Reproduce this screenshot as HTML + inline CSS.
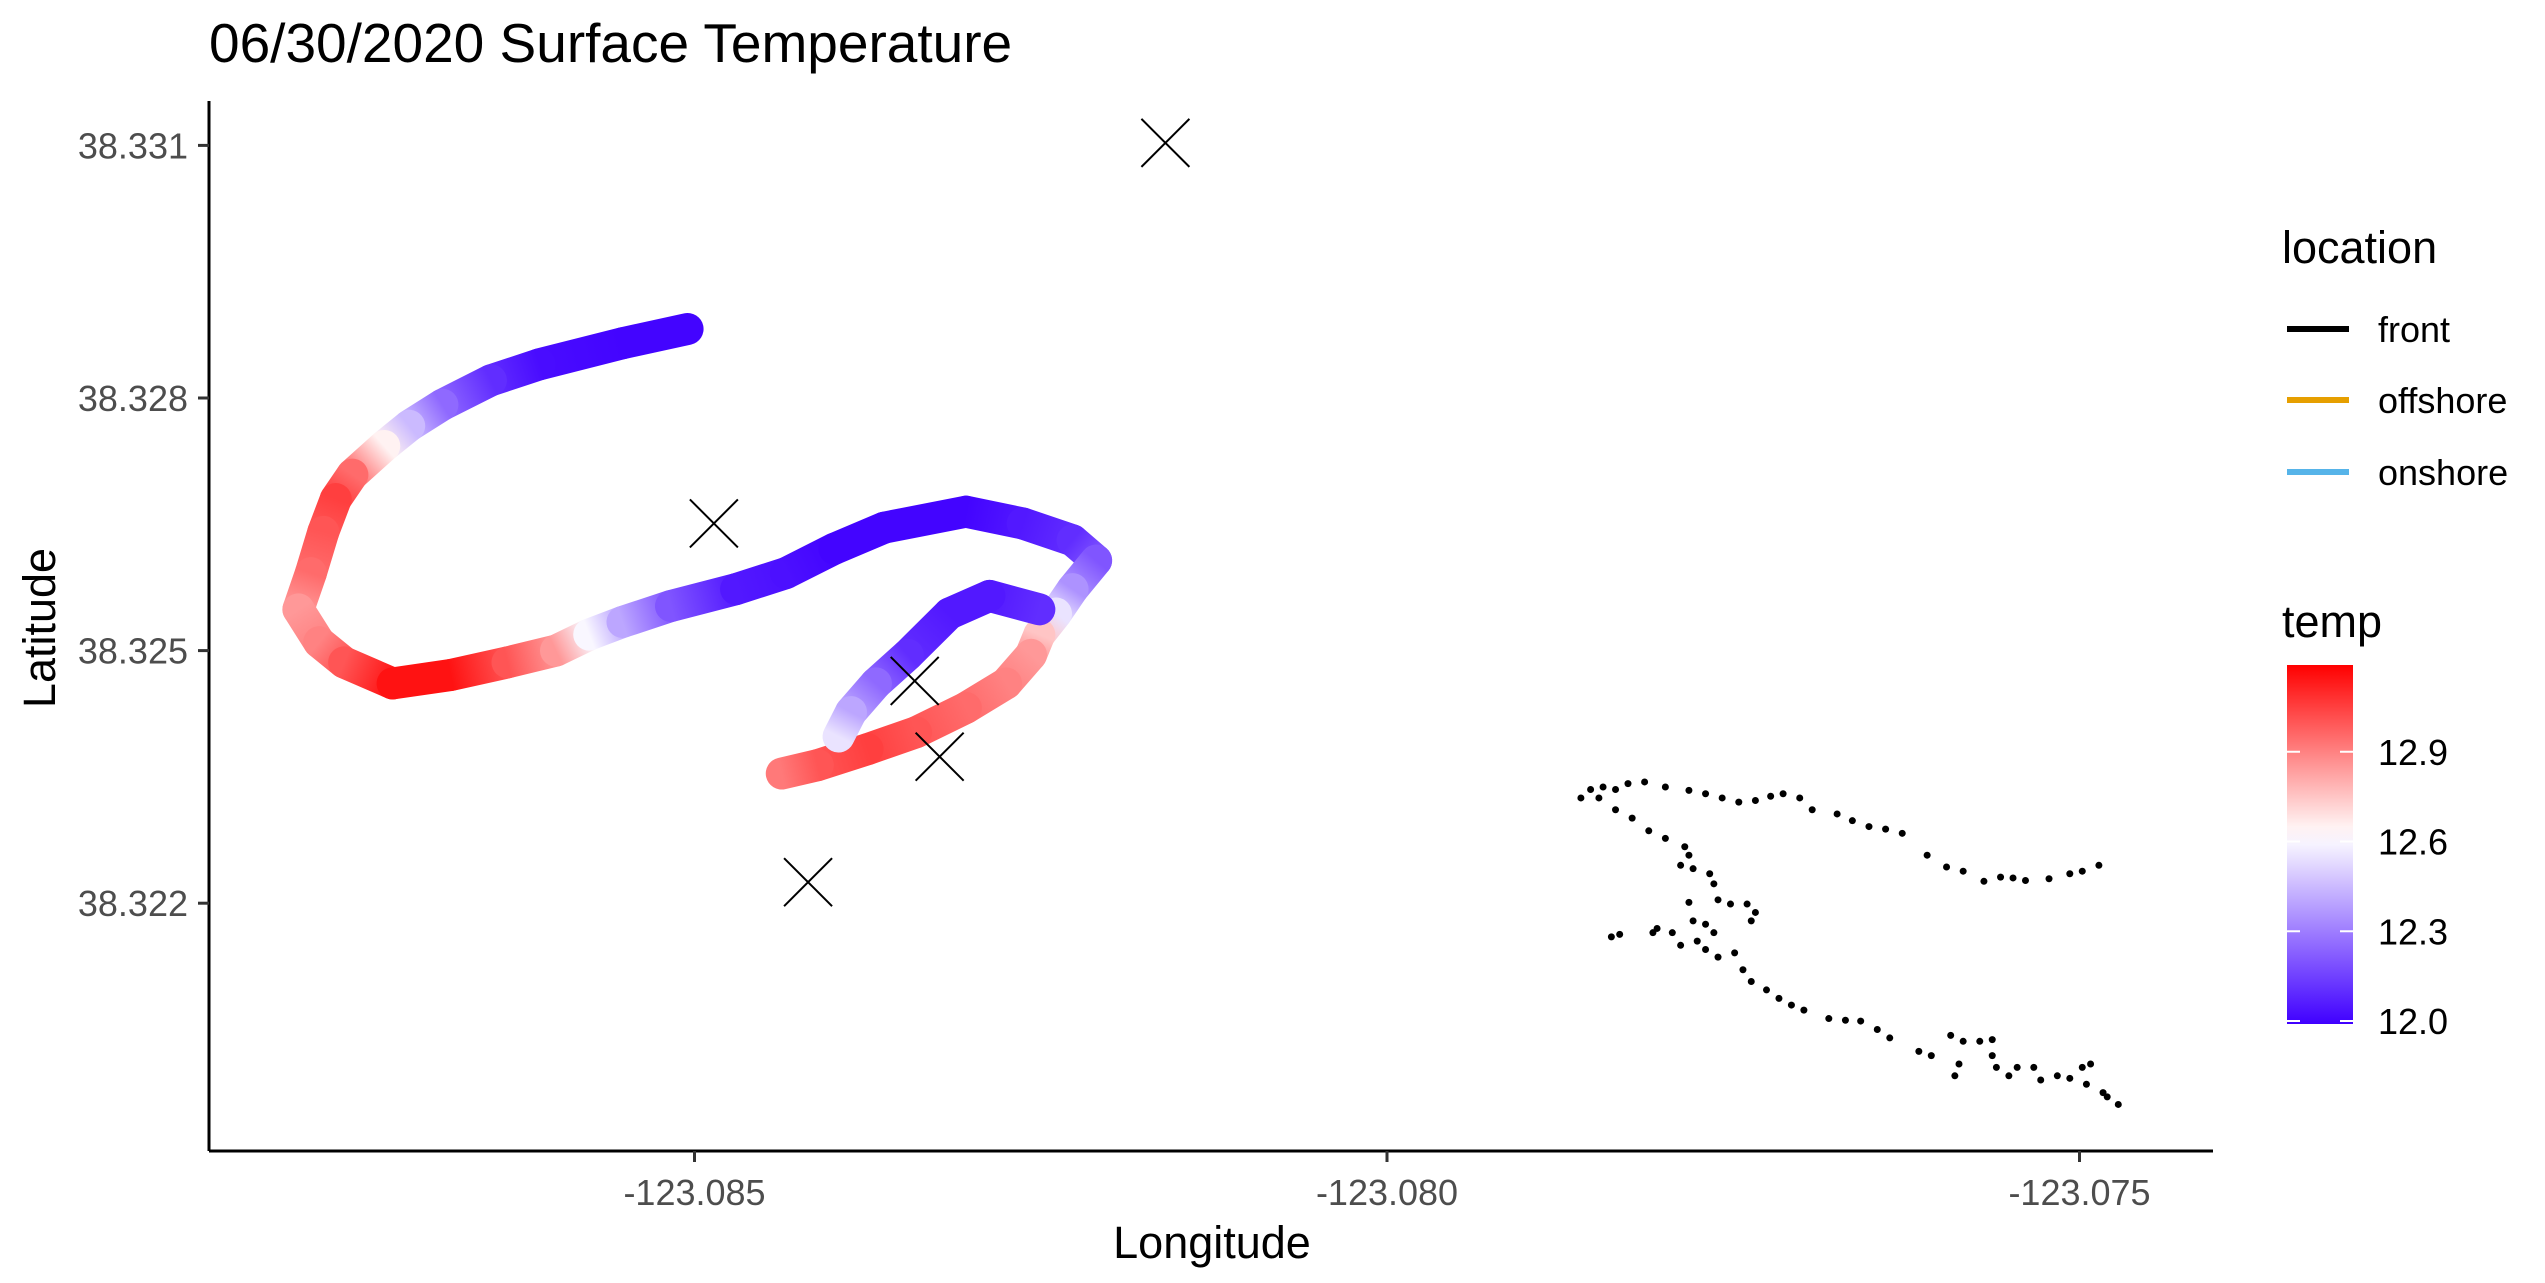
<!DOCTYPE html>
<html><head><meta charset="utf-8"><style>
html,body{margin:0;padding:0;background:#fff;}
svg{display:block;font-family:"Liberation Sans",Arial,sans-serif;}
</style></head><body>
<svg id="chart" width="2545" height="1283" viewBox="0 0 2545 1283">
<defs id="defs"></defs>
<text x="209" y="62" font-size="55" fill="#000">06/30/2020 Surface Temperature</text>
<g id="plot"></g>
<g id="axes"></g>
<text x="1212" y="1258" font-size="45" text-anchor="middle" fill="#000">Longitude</text>
<text transform="translate(55,628) rotate(-90)" font-size="45" text-anchor="middle" fill="#000">Latitude</text>
<g id="legend">
<text x="2282" y="263" font-size="45" fill="#000">location</text>
<g><line x1="2287" y1="329" x2="2349" y2="329" stroke="#000" stroke-width="6"/><text x="2378" y="342" font-size="36">front</text></g>
<g><line x1="2287" y1="400" x2="2349" y2="400" stroke="#E69F00" stroke-width="6"/><text x="2378" y="413" font-size="36">offshore</text></g>
<g><line x1="2287" y1="472" x2="2349" y2="472" stroke="#56B4E9" stroke-width="6"/><text x="2378" y="485" font-size="36">onshore</text></g>
<text x="2282" y="637" font-size="45" fill="#000">temp</text>
<g id="colorbar"></g>
</g>
</svg>
<script>
const xTicks=[-123.085,-123.080,-123.075];
const xTickLabels=["-123.085","-123.080","-123.075"];
const yTicks=[38.331,38.328,38.325,38.322];
const yTickLabels=["38.331","38.328","38.325","38.322"];
const trackLon=[-123.08505,-123.08552,-123.08612,-123.08647,-123.08682,-123.08706,-123.08724,-123.08747,-123.08759,-123.08768,-123.08777,-123.08786,-123.08771,-123.08753,-123.08718,-123.08676,-123.08635,-123.08600,-123.08576,-123.08552,-123.08517,-123.08470,-123.08434,-123.08399,-123.08363,-123.08304,-123.08263,-123.08227,-123.08210,-123.08227,-123.08239,-123.08251,-123.08257,-123.08275,-123.08304,-123.08340,-123.08375,-123.08411,-123.08437];
const trackLat=[38.32882,38.32865,38.32840,38.32821,38.32792,38.32767,38.32743,38.32709,38.32680,38.32641,38.32592,38.32549,38.32510,38.32486,38.32461,38.32471,38.32486,38.32500,38.32519,38.32534,38.32553,38.32573,38.32592,38.32621,38.32646,38.32665,38.32651,38.32631,38.32607,38.32573,38.32544,38.32519,38.32495,38.32461,38.32432,38.32403,38.32383,38.32364,38.32354];
const trackTemp=[12.0,12.0,12.02,12.1,12.25,12.45,12.65,12.95,13.05,13.0,12.95,12.85,12.9,13.0,13.15,13.15,13.0,12.85,12.6,12.4,12.2,12.05,12.03,12.0,12.0,12.0,12.05,12.1,12.2,12.35,12.55,12.75,12.85,12.9,12.95,13.0,13.05,13.0,12.92];
const innerLon=[-123.08251,-123.08287,-123.08316,-123.08346,-123.08369,-123.08387,-123.08396];
const innerLat=[38.32549,38.32565,38.32544,38.32495,38.32461,38.32427,38.32398];
const innerTemp=[12.1,12.05,12.05,12.1,12.25,12.4,12.55];
const crossLon=[-123.08160,-123.08486,-123.08341,-123.08323,-123.08418];
const crossLat=[38.33103,38.32651,38.32464,38.32374,38.32225];
const frontLon=[-123.07860,-123.07853,-123.07844,-123.07835,-123.07826,-123.07814,-123.07799,-123.07782,-123.07770,-123.07758,-123.07746,-123.07734,-123.07723,-123.07714,-123.07702,-123.07693,-123.07675,-123.07664,-123.07652,-123.07640,-123.07628,-123.07610,-123.07596,-123.07584,-123.07569,-123.07557,-123.07548,-123.07539,-123.07522,-123.07507,-123.07498,-123.07486,
-123.07847,-123.07835,-123.07823,-123.07811,-123.07799,-123.07785,-123.07782,-123.07788,-123.07779,-123.07767,-123.07764,-123.07761,-123.07782,-123.07779,-123.07770,-123.07752,-123.07740,-123.07734,-123.07737,-123.07764,-123.07770,-123.07761,-123.07749,-123.07743,-123.07737,-123.07726,-123.07717,-123.07708,-123.07699,-123.07681,-123.07669,-123.07658,-123.07646,-123.07637,-123.07616,-123.07607,-123.07593,-123.07584,-123.07572,-123.07563,-123.07563,-123.07560,-123.07551,-123.07545,-123.07533,-123.07528,-123.07516,-123.07507,-123.07498,-123.07492,-123.07495,-123.07483,-123.07480,-123.07472,-123.07587,-123.07590,-123.07805,-123.07794,-123.07788,-123.07838,-123.07832,-123.07808,-123.07776];
const frontLat=[38.32325,38.32335,38.32338,38.32335,38.32342,38.32344,38.32338,38.32334,38.32330,38.32325,38.32320,38.32322,38.32327,38.32330,38.32325,38.32311,38.32306,38.32298,38.32291,38.32288,38.32283,38.32257,38.32243,38.32238,38.32226,38.32231,38.32230,38.32227,38.32229,38.32235,38.32238,38.32245,
38.32325,38.32311,38.32301,38.32286,38.32277,38.32267,38.32257,38.32245,38.32241,38.32235,38.32223,38.32204,38.32201,38.32179,38.32175,38.32199,38.32199,38.32189,38.32179,38.32165,38.32145,38.32136,38.32141,38.32121,38.32107,38.32097,38.32087,38.32079,38.32073,38.32063,38.32061,38.32060,38.32050,38.32040,38.32024,38.32019,38.32043,38.32036,38.32036,38.32038,38.32019,38.32005,38.31995,38.32005,38.32005,38.31990,38.31995,38.31992,38.32005,38.32009,38.31985,38.31975,38.31970,38.31961,38.32009,38.31995,38.32170,38.32165,38.32150,38.32160,38.32163,38.32165,38.32155];
const tempTicks=[12.0,12.3,12.6,12.9];
const tempTickLabels=["12.0","12.3","12.6","12.9"];
const tempMin=11.99, tempMid=12.62, tempMax=13.19;

const NS="http://www.w3.org/2000/svg";
const X0=209, X1=2213, Y0=101, Y1=1151;
function xs(lon){return 1387+(lon+123.080)*138500;}
function ys(lat){return 650.6-(lat-38.325)*84200;}
function tcol(t){
  let c;
  if(t<=tempMid){const f=Math.max(0,(t-tempMin)/(tempMid-tempMin));c=[64+(255-64)*f,0+255*f,255];}
  else{const f=Math.min(1,(t-tempMid)/(tempMax-tempMid));c=[255,255*(1-f),255*(1-f)];}
  return "rgb("+c.map(v=>Math.round(v)).join(",")+")";
}
function mk(tag,attrs,parent){const e=document.createElementNS(NS,tag);for(const k in attrs)e.setAttribute(k,attrs[k]);parent.appendChild(e);return e;}
const plot=document.getElementById('plot'), axes=document.getElementById('axes'), defs=document.getElementById('defs');
let gid=0;
function drawTrack(lons,lats,temps,name){
  const g=mk('g',{},plot);
  
  
  for(let i=0;i<lons.length-1;i++){
    const x1=xs(lons[i]),y1=ys(lats[i]),x2=xs(lons[i+1]),y2=ys(lats[i+1]);
    const id='g'+(gid++);
    const lg=mk('linearGradient',{id:id,gradientUnits:'userSpaceOnUse',x1:x1,y1:y1,x2:x2,y2:y2},defs);
    mk('stop',{offset:0,'stop-color':tcol(temps[i])},lg);
    mk('stop',{offset:1,'stop-color':tcol(temps[i+1])},lg);
    const seg=mk('line',{x1:x1,y1:y1,x2:x2,y2:y2,stroke:'url(#'+id+')','stroke-width':32,'stroke-linecap':'round'},g);
    
    
  }
}
drawTrack(trackLon,trackLat,trackTemp,'temperature-track-outer');
drawTrack(innerLon,innerLat,innerTemp,'temperature-track-inner');
for(let i=0;i<crossLon.length;i++){
  const cx=xs(crossLon[i]),cy=ys(crossLat[i]),h=24;
  const p=mk('path',{d:`M${cx-h},${cy-h}L${cx+h},${cy+h}M${cx-h},${cy+h}L${cx+h},${cy-h}`,stroke:'#000','stroke-width':2,fill:'none'},plot);
  
  
}
for(let i=0;i<frontLon.length;i++){
  const c=mk('circle',{cx:xs(frontLon[i]),cy:ys(frontLat[i]),r:3.5,fill:'#000'},plot);
  
  
}
const xl=mk('line',{x1:X0,y1:Y1,x2:X1,y2:Y1,stroke:'#000','stroke-width':3},axes);


const yl=mk('line',{x1:X0,y1:Y0,x2:X0,y2:Y1,stroke:'#000','stroke-width':3},axes);


xTicks.forEach((v,i)=>{
  const x=xs(v);
  const t=mk('line',{x1:x,y1:Y1,x2:x,y2:Y1+11,stroke:'#333','stroke-width':3},axes);
  
  
  const tx=mk('text',{x:x,y:1205,'font-size':36,'text-anchor':'middle',fill:'#4d4d4d'},axes);
  tx.textContent=xTickLabels[i];
  
  
});
yTicks.forEach((v,i)=>{
  const y=ys(v);
  const t=mk('line',{x1:X0-11,y1:y,x2:X0,y2:y,stroke:'#333','stroke-width':3},axes);
  
  
  const tx=mk('text',{x:188,y:y+13,'font-size':36,'text-anchor':'end',fill:'#4d4d4d'},axes);
  tx.textContent=yTickLabels[i];
  
  
});
const cb=document.getElementById('colorbar');
const CB0=665, CB1=1024, CX0=2287, CX1=2353;
function cy(t){return CB1-(t-tempMin)/(tempMax-tempMin)*(CB1-CB0);}
const cg=mk('linearGradient',{id:'cbg',x1:0,y1:1,x2:0,y2:0},defs);
for(let k=0;k<=20;k++){const t=tempMin+(tempMax-tempMin)*k/20;mk('stop',{offset:k/20,'stop-color':tcol(t)},cg);}
const rect=mk('rect',{x:CX0,y:CB0,width:CX1-CX0,height:CB1-CB0,fill:'url(#cbg)'},cb);


tempTicks.forEach((v,i)=>{
  const y=cy(v);
  mk('line',{x1:CX0,y1:y,x2:CX0+13,y2:y,stroke:'#fff','stroke-width':2},cb);
  mk('line',{x1:CX1-13,y1:y,x2:CX1,y2:y,stroke:'#fff','stroke-width':2},cb);
  const tx=mk('text',{x:2378,y:y+13,'font-size':36,fill:'#000'},cb);
  tx.textContent=tempTickLabels[i];
  
  
});
</script>
</body></html>
